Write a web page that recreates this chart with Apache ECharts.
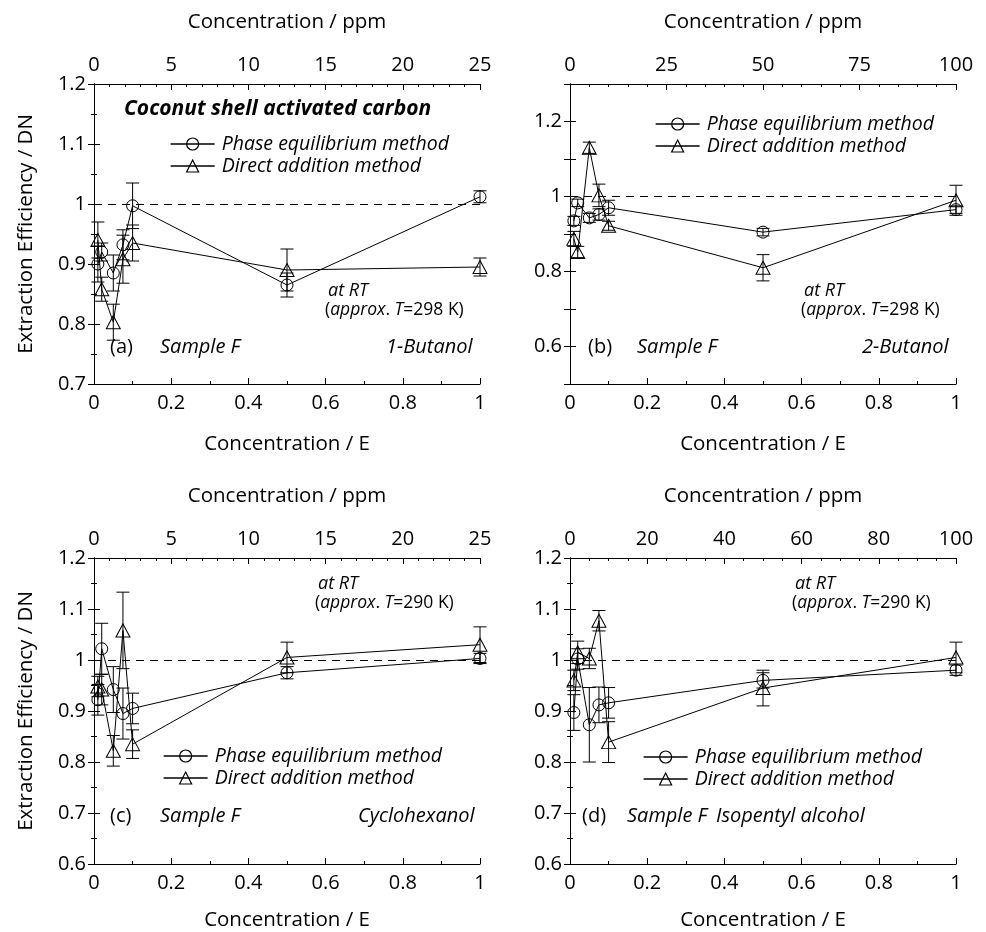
<!DOCTYPE html>
<html>
<head>
<meta charset="utf-8">
<script src="https://cdn.jsdelivr.net/npm/echarts@6/dist/echarts.min.js"></script>
<style>
  html, body { margin: 0; padding: 0; background: #fff; }
  #main { width: 986px; height: 932px; }
</style>
</head>
<body>
<div id="main"></div>
<script>
// concentrations (E units); ppm axis = E * ppmMax
var xE = [0.01, 0.02, 0.05, 0.075, 0.1, 0.5, 1];

// (a) 1-Butanol
var aPhase = [0.900, 0.920, 0.885, 0.932, 0.997, 0.865, 1.012];
var aPhaseErr = [0.03, 0.015, 0.03, 0.025, 0.038, 0.02, 0.01];
var aDirect = [0.940, 0.858, 0.803, 0.908, 0.935, 0.890, 0.895];
var aDirectErr = [0.03, 0.02, 0.03, 0.04, 0.03, 0.035, 0.015];

// (b) 2-Butanol
var bPhase = [0.935, 0.983, 0.943, 0.952, 0.970, 0.905, 0.965];
var bPhaseErr = [0.012, 0.01, 0.012, 0.015, 0.02, 0.01, 0.01];
var bDirect = [0.887, 0.852, 1.130, 1.003, 0.922, 0.810, 0.990];
var bDirectErr = [0.02, 0.015, 0.015, 0.03, 0.012, 0.035, 0.04];

// (c) Cyclohexanol
var cPhase = [0.922, 1.022, 0.942, 0.895, 0.905, 0.975, 1.003];
var cPhaseErr = [0.03, 0.05, 0.045, 0.05, 0.03, 0.012, 0.01];
var cDirect = [0.948, 0.942, 0.822, 1.058, 0.835, 1.005, 1.030];
var cDirectErr = [0.02, 0.03, 0.03, 0.075, 0.028, 0.03, 0.035];

// (d) Isopentyl alcohol
var dPhase = [0.897, 1.002, 0.873, 0.912, 0.916, 0.960, 0.980];
var dPhaseErr = [0.035, 0.02, 0.073, 0.035, 0.03, 0.015, 0.01];
var dDirect = [0.960, 1.015, 1.003, 1.077, 0.839, 0.945, 1.005];
var dDirectErr = [0.02, 0.022, 0.02, 0.02, 0.04, 0.035, 0.03];

var FONT = 'Open Sans';
var myChart = echarts.init(document.getElementById('main'), null, { renderer: 'canvas' });

var panels = [
  { grid: { left: 94, top: 84, width: 386, height: 300 }, ymin: 0.7, ymax: 1.2, yint: 0.1, yminor: 2,
    ppmMax: 25, ppmInt: 5, ppmMinor: 5, yName: 'Extraction Efficiency / DN', eGap: 50,
    phase: aPhase, phaseErr: aPhaseErr, direct: aDirect, directErr: aDirectErr },
  { grid: { left: 570, top: 84, width: 386, height: 300 }, ymin: 0.5, ymax: 1.3, yint: 0.1, yminor: 1,
    ppmMax: 100, ppmInt: 25, ppmMinor: 5, yName: '', evenLabels: true, eGap: 50,
    phase: bPhase, phaseErr: bPhaseErr, direct: bDirect, directErr: bDirectErr },
  { grid: { left: 94, top: 558, width: 386, height: 306 }, ymin: 0.6, ymax: 1.2, yint: 0.1, yminor: 2,
    ppmMax: 25, ppmInt: 5, ppmMinor: 5, yName: 'Extraction Efficiency / DN', eGap: 46,
    phase: cPhase, phaseErr: cPhaseErr, direct: cDirect, directErr: cDirectErr },
  { grid: { left: 570, top: 558, width: 386, height: 306 }, ymin: 0.6, ymax: 1.2, yint: 0.1, yminor: 2,
    ppmMax: 100, ppmInt: 20, ppmMinor: 4, yName: '', eGap: 46,
    phase: dPhase, phaseErr: dPhaseErr, direct: dDirect, directErr: dDirectErr }
];

var axisLine = { show: true, lineStyle: { color: '#000', width: 1 } };
var labelStyle = { color: '#000', fontFamily: FONT, fontSize: 20 };
var nameStyle = { color: '#000', fontFamily: FONT, fontSize: 20.5 };
var tick = { inside: true, length: 6, lineStyle: { color: '#000' } };

function errorRender(params, api) {
  var x = api.value(0), y = api.value(1), e = api.value(2);
  var top = api.coord([x, y + e]);
  var bot = api.coord([x, y - e]);
  var hw = 6.5;
  var st = { stroke: '#000', lineWidth: 1 };
  return {
    type: 'group',
    children: [
      { type: 'line', shape: { x1: top[0], y1: top[1], x2: bot[0], y2: bot[1] }, style: st },
      { type: 'line', shape: { x1: top[0] - hw, y1: top[1], x2: top[0] + hw, y2: top[1] }, style: st },
      { type: 'line', shape: { x1: bot[0] - hw, y1: bot[1], x2: bot[0] + hw, y2: bot[1] }, style: st }
    ]
  };
}

function pairs(ys) {
  return xE.map(function (x, i) { return [x, ys[i]]; });
}
function triples(ys, es) {
  return xE.map(function (x, i) { return [x, ys[i], es[i]]; });
}

var grids = [], xAxes = [], yAxes = [], series = [], legends = [];

panels.forEach(function (p, i) {
  grids.push(p.grid);
  // bottom: E
  xAxes.push({
    type: 'value', gridIndex: i, position: 'bottom', min: 0, max: 1, interval: 0.2,
    name: 'Concentration / E', nameLocation: 'middle', nameGap: p.eGap, nameTextStyle: nameStyle,
    axisLine: axisLine, axisTick: tick,
    minorTick: { show: true, splitNumber: 2, length: 3, lineStyle: { color: '#000' } },
    axisLabel: Object.assign({ margin: 9 }, labelStyle), splitLine: { show: false }
  });
  // top: ppm
  xAxes.push({
    type: 'value', gridIndex: i, position: 'top', min: 0, max: p.ppmMax, interval: p.ppmInt,
    name: 'Concentration / ppm', nameLocation: 'middle', nameGap: 51, nameTextStyle: nameStyle,
    axisLine: axisLine, axisTick: tick,
    minorTick: { show: true, splitNumber: p.ppmMinor, length: 3, lineStyle: { color: '#000' } },
    axisLabel: Object.assign({ margin: 9 }, labelStyle), splitLine: { show: false }
  });
  yAxes.push({
    type: 'value', gridIndex: i, position: 'left', min: p.ymin, max: p.ymax, interval: p.yint,
    name: p.yName, nameLocation: 'middle', nameGap: 57, nameRotate: 90, nameTextStyle: nameStyle,
    axisLine: axisLine, axisTick: tick,
    minorTick: { show: p.yminor > 1, splitNumber: p.yminor, length: 3, lineStyle: { color: '#000' } },
    axisLabel: Object.assign({
      margin: 8,
      formatter: function (v) {
        var r = Math.round(v * 10) / 10;
        if (p.evenLabels && Math.round(r * 10) % 2 !== 0) return '';
        return String(r);
      }
    }, labelStyle),
    splitLine: { show: false }
  });
  yAxes.push({
    type: 'value', gridIndex: i, position: 'right', min: p.ymin, max: p.ymax, interval: p.yint,
    axisLine: axisLine, axisTick: tick,
    minorTick: { show: p.yminor > 1, splitNumber: p.yminor, length: 3, lineStyle: { color: '#000' } },
    axisLabel: { show: false }, splitLine: { show: false }
  });

  var xi = 2 * i, yi = 2 * i;
  series.push({
    type: 'custom', xAxisIndex: xi, yAxisIndex: yi, renderItem: errorRender,
    data: triples(p.phase, p.phaseErr), z: 1, silent: true
  });
  series.push({
    type: 'custom', xAxisIndex: xi, yAxisIndex: yi, renderItem: errorRender,
    data: triples(p.direct, p.directErr), z: 1, silent: true
  });
  series.push({
    name: 'Phase equilibrium method', type: 'line', xAxisIndex: xi, yAxisIndex: yi,
    data: pairs(p.phase), symbol: 'circle', symbolSize: 12,
    itemStyle: { color: 'rgba(0,0,0,0)', borderColor: '#000', borderWidth: 1 },
    lineStyle: { color: '#000', width: 1 }, z: 3,
    markLine: {
      silent: true, symbol: 'none', label: { show: false },
      lineStyle: { color: '#000', width: 1, type: [8, 6] },
      data: [{ yAxis: 1 }]
    }
  });
  series.push({
    name: 'Direct addition method', type: 'line', xAxisIndex: xi, yAxisIndex: yi,
    data: pairs(p.direct), symbol: 'triangle', symbolSize: [14, 13],
    itemStyle: { color: 'rgba(0,0,0,0)', borderColor: '#000', borderWidth: 1 },
    lineStyle: { color: '#000', width: 1 }, z: 3
  });
});

var legendPos = [
  { left: 170, top: 134 },
  { left: 655, top: 114 },
  { left: 163, top: 746 },
  { left: 643, top: 747 }
];
legendPos.forEach(function (lp) {
  legends.push({
    left: lp.left, top: lp.top, orient: 'vertical', itemGap: 2, itemWidth: 44, itemHeight: 15,
    selectedMode: false, padding: 0,
    lineStyle: { width: 1.3, color: '#000' },
    itemStyle: { color: 'rgba(0,0,0,0)', borderColor: '#000', borderWidth: 1.2 },
    data: ['Phase equilibrium method', 'Direct addition method'],
    textStyle: { color: '#000', fontFamily: FONT, fontSize: 19.5, lineHeight: 20, fontStyle: 'italic', padding: [0, 0, 0, 2] }
  });
});

var rich = {
  i: { fontFamily: FONT, fontSize: 17.5, fontStyle: 'italic', fill: '#000' },
  n: { fontFamily: FONT, fontSize: 17.5, fill: '#000' }
};
function rtNote(left, top, temp) {
  return [
    { type: 'text', left: left + 3, top: top, style: { text: 'at RT', font: 'italic 18px "Open Sans"', fill: '#000' } },
    { type: 'text', left: left, top: top + 19, style: { rich: rich, text: '{n|(}{i|approx}{n|. }{i|T}{n|=' + temp + ' K)}' } }
  ];
}
function sampleLabel(left, top, tag, sampleLeft, nameLeft, name) {
  return [
    { type: 'text', left: left, top: top, style: { text: tag, font: '20px "Open Sans"', fill: '#000' } },
    { type: 'text', left: sampleLeft, top: top, style: { text: 'Sample F', font: 'italic 20px "Open Sans"', fill: '#000' } },
    { type: 'text', left: nameLeft, top: top, style: { text: name, font: 'italic 20px "Open Sans"', fill: '#000' } }
  ];
}

var graphics = [
  { type: 'text', left: 124, top: 99, style: { text: 'Coconut shell activated carbon', font: 'italic bold 21px "Open Sans"', fill: '#000' } }
]
  .concat(rtNote(325, 282, 298))
  .concat(rtNote(801, 282, 298))
  .concat(rtNote(315, 575, 290))
  .concat(rtNote(792, 575, 290))
  .concat(sampleLabel(110, 337, '(a)', 160, 386, '1-Butanol'))
  .concat(sampleLabel(588, 337, '(b)', 637, 862, '2-Butanol'))
  .concat(sampleLabel(110, 806, '(c)', 160, 358, 'Cyclohexanol'))
  .concat(sampleLabel(582, 806, '(d)', 627, 716, 'Isopentyl alcohol'));

var option = {
  backgroundColor: '#fff',
  animation: false,
  textStyle: { fontFamily: FONT },
  grid: grids,
  xAxis: xAxes,
  yAxis: yAxes,
  legend: legends,
  graphic: graphics,
  series: series
};
myChart.setOption(option);
</script>
</body>
</html>
